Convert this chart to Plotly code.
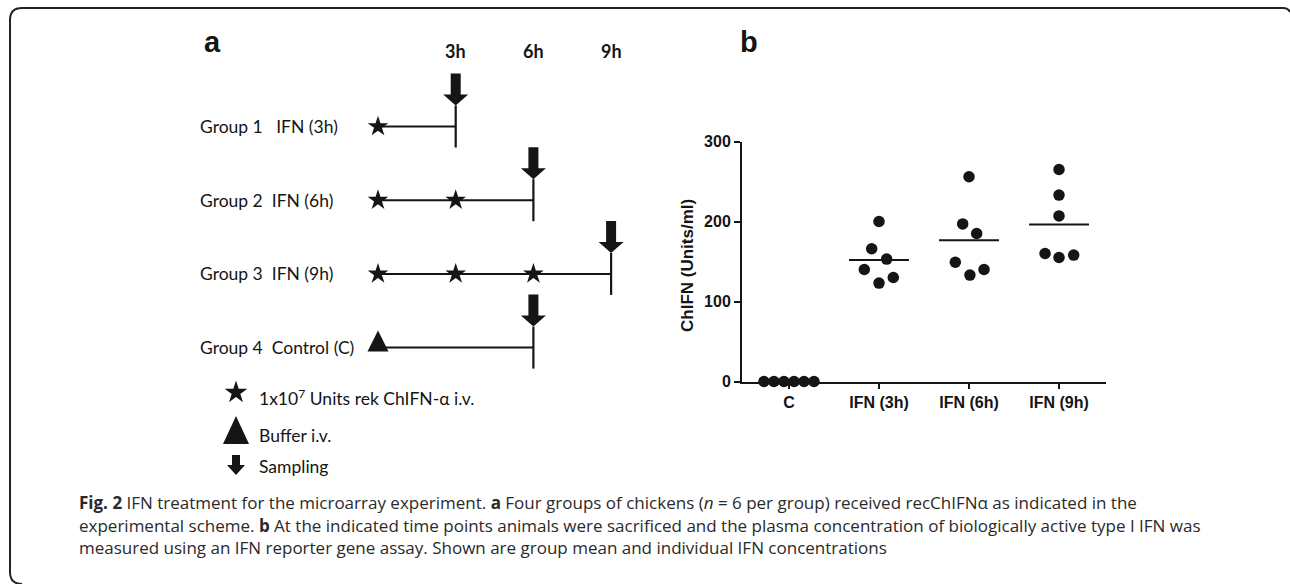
import plotly.graph_objects as go

W, H = 1290, 584

# ---------------- Panel b data ----------------
categories = ["C", "IFN (3h)", "IFN (6h)", "IFN (9h)"]
conc_c = [0, 0, 0, 0, 0, 0]
conc_3h = [200, 166, 153, 140, 130, 123]
conc_6h = [256, 197, 185, 149, 140, 133]
conc_9h = [265, 233, 207, 160, 155, 158]
y_ticks = [0, 100, 200, 300]
# horizontal scatter of the dots within each column (category units)
spread_c = [-0.278, -0.167, -0.056, 0.056, 0.167, 0.278]
spread_3h = [0.0, -0.081, 0.085, -0.163, 0.159, 0.0]
spread_6h = [0.0, -0.07, 0.085, -0.152, 0.167, 0.01]
spread_9h = [0.0, 0.0, 0.0, -0.155, 0.0, 0.163]

# ---------------- Panel a data ----------------
group_labels = ["Group 1   IFN (3h)", "Group 2  IFN (6h)", "Group 3  IFN (9h)", "Group 4  Control (C)"]
injection_times = [[0], [0, 3], [0, 3, 6], [0]]
injection_kind = ["IFN", "IFN", "IFN", "Buffer"]
sampling_times = [3, 6, 9, 6]
time_label_vals = [3, 6, 9]
time_labels = ["3h", "6h", "9h"]
legend_texts = ["1x10<sup>7</sup> Units rek ChIFN-α i.v.", "Buffer i.v.", "Sampling"]

caption_lines = [
    "<b>Fig. 2</b> IFN treatment for the microarray experiment. <b>a</b> Four groups of chickens (<i>n</i> = 6 per group) received recChIFNα as indicated in the",
    "experimental scheme. <b>b</b> At the indicated time points animals were sacrificed and the plasma concentration of biologically active type I IFN was",
    "measured using an IFN reporter gene assay. Shown are group mean and individual IFN concentrations",
]

INK = "#151515"
BOLD_SANS = "Liberation Sans, Arial, sans-serif"
CAL = "Lato, Carlito, sans-serif"
CAP = "Open Sans, sans-serif"


def px(x):
    return x / W


def py(y):
    return 1 - y / H


# scheme axis (time in hours, rows) placement
T0_PX, PX_PER_H = 378.0, 25.9
ROW1_PX, ROW_PX = 126.5, 73.7
x2_range = [(0 - T0_PX) / PX_PER_H, (W - T0_PX) / PX_PER_H]
y2_range = [1 + (H - ROW1_PX) / ROW_PX, 1 - ROW1_PX / ROW_PX]


def t_of(xpix):
    return (xpix - T0_PX) / PX_PER_H


def row_of(ypix):
    return 1 + (ypix - ROW1_PX) / ROW_PX


fig = go.Figure()
shapes = []
annotations = []

# ---------------- Panel a: scheme ----------------
for i, (lab, inj, kind, ts) in enumerate(zip(group_labels, injection_times, injection_kind, sampling_times)):
    row = i + 1
    fig.add_trace(go.Scatter(x=[0, ts], y=[row, row], mode="lines", line=dict(color=INK, width=2),
                             xaxis="x2", yaxis="y2", hoverinfo="skip", showlegend=False))
    fig.add_trace(go.Scatter(x=[ts], y=[row], mode="markers",
                             marker=dict(symbol="line-ns-open", size=30, color=INK,
                                         line=dict(color=INK, width=2.2)),
                             xaxis="x2", yaxis="y2", hoverinfo="skip", showlegend=False))
    if kind == "IFN":
        fig.add_trace(go.Scatter(x=inj, y=[row] * len(inj), mode="markers",
                                 marker=dict(symbol="star", size=15.5, color=INK, line=dict(width=0)),
                                 xaxis="x2", yaxis="y2", hoverinfo="skip", showlegend=False))
    else:
        for t in inj:
            shapes.append(dict(type="path", xref="x2", yref="y2", xsizemode="pixel", ysizemode="pixel",
                               xanchor=t, yanchor=row, path="M -10.5,-4 L 10.5,-4 L 0,17 Z",
                               fillcolor=INK, line=dict(width=0)))
    shapes.append(dict(type="path", xref="x2", yref="y2", xsizemode="pixel", ysizemode="pixel",
                       xanchor=ts, yanchor=row,
                       path="M -5,53 L 5,53 L 5,32 L 12.5,32 L 0,21 L -12.5,32 L -5,32 Z",
                       fillcolor=INK, line=dict(width=0)))
    annotations.append(dict(text=lab, x=px(198), y=row, xref="paper", yref="y2", xanchor="left",
                            yanchor="middle", showarrow=False, font=dict(family=CAL, size=17.5, color=INK)))

for v, t in zip(time_label_vals, time_labels):
    annotations.append(dict(text="<b>%s</b>" % t, x=v, y=py(51), xref="x2", yref="paper",
                            xanchor="center", yanchor="middle", showarrow=False,
                            font=dict(family=CAL, size=18, color=INK)))

# legend glyphs
leg_t = t_of(236)
fig.add_trace(go.Scatter(x=[leg_t], y=[row_of(392.5)], mode="markers",
                         marker=dict(symbol="star", size=17, color=INK, line=dict(width=0)),
                         xaxis="x2", yaxis="y2", hoverinfo="skip", showlegend=False))
shapes.append(dict(type="path", xref="x2", yref="y2", xsizemode="pixel", ysizemode="pixel",
                   xanchor=leg_t, yanchor=row_of(430), path="M -13,-14 L 13,-14 L 0,14 Z",
                   fillcolor=INK, line=dict(width=0)))
shapes.append(dict(type="path", xref="x2", yref="y2", xsizemode="pixel", ysizemode="pixel",
                   xanchor=leg_t, yanchor=row_of(466),
                   path="M -4,11 L 4,11 L 4,1 L 9,1 L 0,-9 L -9,1 L -4,1 Z",
                   fillcolor=INK, line=dict(width=0)))
for txt, yy in zip(legend_texts, [397, 435, 466]):
    annotations.append(dict(text=txt, x=px(257), y=py(yy), xref="paper", yref="paper", xanchor="left",
                            yanchor="middle", showarrow=False, font=dict(family=CAL, size=17.5, color=INK)))

# panel letters
annotations.append(dict(text="<b>a</b>", x=px(202), y=py(42), xref="paper", yref="paper", xanchor="left",
                        yanchor="middle", showarrow=False, font=dict(family=BOLD_SANS, size=29, color=INK)))
annotations.append(dict(text="<b>b</b>", x=px(738), y=py(42), xref="paper", yref="paper", xanchor="left",
                        yanchor="middle", showarrow=False, font=dict(family=BOLD_SANS, size=29, color=INK)))

# ---------------- Panel b: dot plot ----------------
groups_vals = [conc_c, conc_3h, conc_6h, conc_9h]
spreads = [spread_c, spread_3h, spread_6h, spread_9h]
for i, (vals, sp) in enumerate(zip(groups_vals, spreads)):
    fig.add_trace(go.Scatter(x=[i + s for s in sp], y=vals, mode="markers",
                             marker=dict(symbol="circle", size=11.5, color=INK, line=dict(width=0)),
                             cliponaxis=False, xaxis="x", yaxis="y", showlegend=False))
    if i > 0:
        m = sum(vals) / len(vals)
        fig.add_trace(go.Scatter(x=[i - 0.333, i + 0.333], y=[m, m], mode="lines",
                                 line=dict(color=INK, width=2), xaxis="x", yaxis="y",
                                 hoverinfo="skip", showlegend=False))

annotations.append(dict(text="<b>ChIFN (Units/ml)</b>", x=px(688), y=py(266), xref="paper", yref="paper",
                        textangle=-90, showarrow=False, xanchor="center", yanchor="middle",
                        font=dict(family=BOLD_SANS, size=17, color=INK)))

# caption
for k, line in enumerate(caption_lines):
    annotations.append(dict(text=line, x=px(77), y=py(503 + 22 * k), xref="paper", yref="paper",
                            xanchor="left", yanchor="middle", showarrow=False,
                            font=dict(family=CAP, size=17, color="#2a2a2a")))

# frame
frame_path = ("M {a},{b} Q {c},{b} {c},{d} L {c},{e} Q {c},{f} {g},{f} L {h},{f} Q {i},{f} {j},{k}").format(
    a=px(22), b=py(584), c=px(10), d=py(572), e=py(20), f=py(8), g=px(22), h=px(1283), i=px(1288), j=px(1290),
    k=py(12))
shapes.append(dict(type="path", xref="paper", yref="paper", path=frame_path,
                   line=dict(color="#222", width=2)))

fig.update_layout(
    width=W, height=H, margin=dict(l=0, r=0, t=0, b=0, autoexpand=False),
    paper_bgcolor="white", plot_bgcolor="rgba(0,0,0,0)", showlegend=False,
    shapes=shapes, annotations=annotations,
    xaxis=dict(domain=[px(742), px(1106)], range=[-0.522, 3.522], tickvals=[0, 1, 2, 3],
               ticktext=["<b>%s</b>" % c for c in categories], showline=True, linecolor=INK, linewidth=2,
               ticks="outside", ticklen=5, tickwidth=2, tickcolor=INK, showgrid=False, zeroline=False,
               tickfont=dict(family=BOLD_SANS, size=16, color=INK), fixedrange=True, anchor="y"),
    yaxis=dict(domain=[py(381.5), py(141.5)], range=[0, 300], tickvals=y_ticks,
               ticktext=["<b>%d</b>" % v for v in y_ticks],
               showline=True, linecolor=INK, linewidth=2, ticks="outside", ticklen=6, tickwidth=2,
               tickcolor=INK, showgrid=False, zeroline=False,
               tickfont=dict(family=BOLD_SANS, size=16, color=INK), fixedrange=True, anchor="x"),
    xaxis2=dict(domain=[0, 1], range=x2_range, visible=False, fixedrange=True, anchor="y2"),
    yaxis2=dict(domain=[0, 1], range=y2_range, visible=False, fixedrange=True, anchor="x2"),
)

fig.write_html(
    "out.html",
    config={"displayModeBar": False, "staticPlot": True},
    post_script=("document.documentElement.style.margin='0';document.body.style.margin='0';"
                 "document.documentElement.style.overflow='hidden';document.body.style.overflow='hidden';"
                 "var gd=document.getElementById('{plot_id}');gd.style.position='fixed';"
                 "gd.style.left='0px';gd.style.top='0px';"),
)
